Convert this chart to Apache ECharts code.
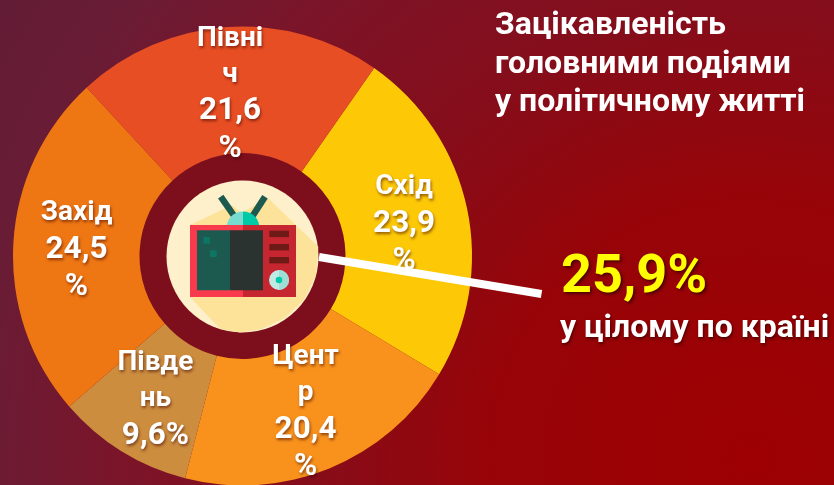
<!DOCTYPE html>
<html><head><meta charset="utf-8">
<style>html,body{margin:0;padding:0;background:#8a0a14}#c{width:834px;height:485px}</style>
<script src="https://cdn.jsdelivr.net/npm/echarts@6/dist/echarts.min.js"></script>
</head><body><div id="c"></div>
<script>
const categories = ['Схід', 'Центр', 'Південь', 'Захід', 'Північ'];
const values = [23.9, 20.4, 9.6, 24.5, 21.6];
const nameLines = [['Схід'], ['Цент', 'р'], ['Півде', 'нь'], ['Захід'], ['Півні', 'ч']];
const valueLines = [['23,9', '%'], ['20,4', '%'], ['9,6%'], ['24,5', '%'], ['21,6', '%']];
const sliceColors = ['#fdc907', '#f9921c', '#cd8d3f', '#ef7713', '#e84e23'];
const titleText = 'Зацікавленість\nголовними подіями\nу політичному житті';
const totalValue = '25,9%';
const totalCaption = 'у цілому по країні';

const shadow = {textShadowColor: 'rgba(60,0,0,0.55)', textShadowBlur: 3, textShadowOffsetX: 1, textShadowOffsetY: 2};
const labelNudge = [[-4, 4], [-1, 0], [2, 0], [3, 4], [-1, 7]];
const R = (x, y, width, height, fill) => ({type: 'rect', shape: {x, y, width, height}, style: {fill}});
const halfDisc = (cx, cy, r, startAngle, endAngle, fill) => ({type: 'sector', shape: {cx, cy, r, r0: 0, startAngle, endAngle}, style: {fill}});
const cast = [[232, 205], [241, 213], [268, 198], [318.3, 246.7], [316, 275], [304, 300], [285, 318], [262, 329], [240, 332.5], [220, 329], [190, 297], [190, 225]];
const chart = echarts.init(document.getElementById('c'));
chart.setOption({
  animation: false,
  backgroundColor: new echarts.graphic.RadialGradient(0.9, 0.95, 1.82, [
    {offset: 0, color: '#9e0002'}, {offset: 0.3, color: '#970408'},
    {offset: 0.5, color: '#860d1a'}, {offset: 0.7, color: '#7c1428'},
    {offset: 0.87, color: '#6a1c35'}, {offset: 1, color: '#621c35'}]),
  title: {
    text: titleText, left: 490, top: 2,
    textStyle: {color: '#fff', fontFamily: 'Roboto', fontWeight: 'bold', fontSize: 32, lineHeight: 38.5}
  },
  series: [{
    type: 'pie', center: [242.5, 256], radius: [103, 229.5], startAngle: 55, clockwise: true,
    avoidLabelOverlap: false, silent: true, emphasis: {disabled: true},
    labelLine: {show: false},
    label: {
      show: true, position: 'inside', color: '#fff',
      fontFamily: 'Roboto', fontWeight: 'bold', ...shadow,
      formatter: p => [...nameLines[p.dataIndex].map(s => '{n|' + s + '}'),
                       ...valueLines[p.dataIndex].map(s => '{v|' + s + '}')].join('\n'),
      rich: {
        n: {fontFamily: 'Roboto', fontWeight: 'bold', fontSize: 28, lineHeight: 36, color: '#fff', ...shadow},
        v: {fontFamily: 'Roboto', fontWeight: 'bold', fontSize: 31.5, lineHeight: 37.5, color: '#fff', ...shadow}
      }
    },
    data: categories.map((name, i) => ({name, value: values[i], itemStyle: {color: sliceColors[i]},
      label: {offset: labelNudge[i]}}))
  }],
  graphic: {elements: [{
    type: 'group', z: 10, silent: true, children: [
      {type: 'circle', shape: {cx: 242.5, cy: 256.5, r: 103}, style: {fill: '#7d0f1c'}},
      {type: 'circle', shape: {cx: 242.5, cy: 256.5, r: 76}, style: {fill: '#fdf0cb'}},
      {type: 'polygon', shape: {points: cast}, style: {fill: '#fde39a'}},
      {type: 'line', shape: {x1: 220.7, y1: 196.7, x2: 237, y2: 220}, style: {stroke: '#1c5a50', lineWidth: 6.5}},
      {type: 'line', shape: {x1: 265, y1: 196.7, x2: 250, y2: 220}, style: {stroke: '#1c5a50', lineWidth: 6.5}},
      halfDisc(243, 228, 16.5, Math.PI / 2, 3 * Math.PI / 2, '#77dbcf'),
      halfDisc(243, 228, 16.5, -Math.PI / 2, Math.PI / 2, '#00c9a7'),
      R(190, 225, 53, 72, '#f93a4c'), R(243, 225, 53, 72, '#c5262f'),
      R(197, 230.3, 33, 60, '#1c5a50'), R(230, 230.3, 33, 60, '#2b3331'),
      R(203.3, 237, 6.7, 6.7, '#0d7563'), R(210, 250.3, 6.7, 6.7, '#0d7563'),
      R(269.3, 230.7, 19.7, 6.4, '#6e1a17'), R(269.3, 244, 19.7, 6.4, '#6e1a17'), R(269.3, 257, 19.7, 6.4, '#6e1a17'),
      {type: 'circle', shape: {cx: 279, cy: 280, r: 10}, style: {fill: '#c0ebe5'}},
      halfDisc(279, 280, 10, -Math.PI / 2, Math.PI / 2, '#9fded6'),
      {type: 'circle', shape: {cx: 279, cy: 280, r: 3.3}, style: {fill: '#00c9a7'}}
    ]
  }, {
    type: 'line', z: 20, silent: true,
    shape: {x1: 319, y1: 257, x2: 541.5, y2: 294}, style: {stroke: '#fff', lineWidth: 8}
  }, {
    type: 'text', z: 20, silent: true, x: 561, y: 251,
    style: {text: totalValue, fill: '#ffff00', font: 'bold 54px Roboto', textShadowColor: 'rgba(50,0,0,0.7)', textShadowBlur: 3, textShadowOffsetX: 2, textShadowOffsetY: 2}
  }, {
    type: 'text', z: 20, silent: true, x: 560, y: 313,
    style: {text: totalCaption, fill: '#fff', font: 'bold 32px Roboto', textShadowColor: 'rgba(50,0,0,0.7)', textShadowBlur: 3, textShadowOffsetX: 1, textShadowOffsetY: 2}
  }]}
});
</script></body></html>
